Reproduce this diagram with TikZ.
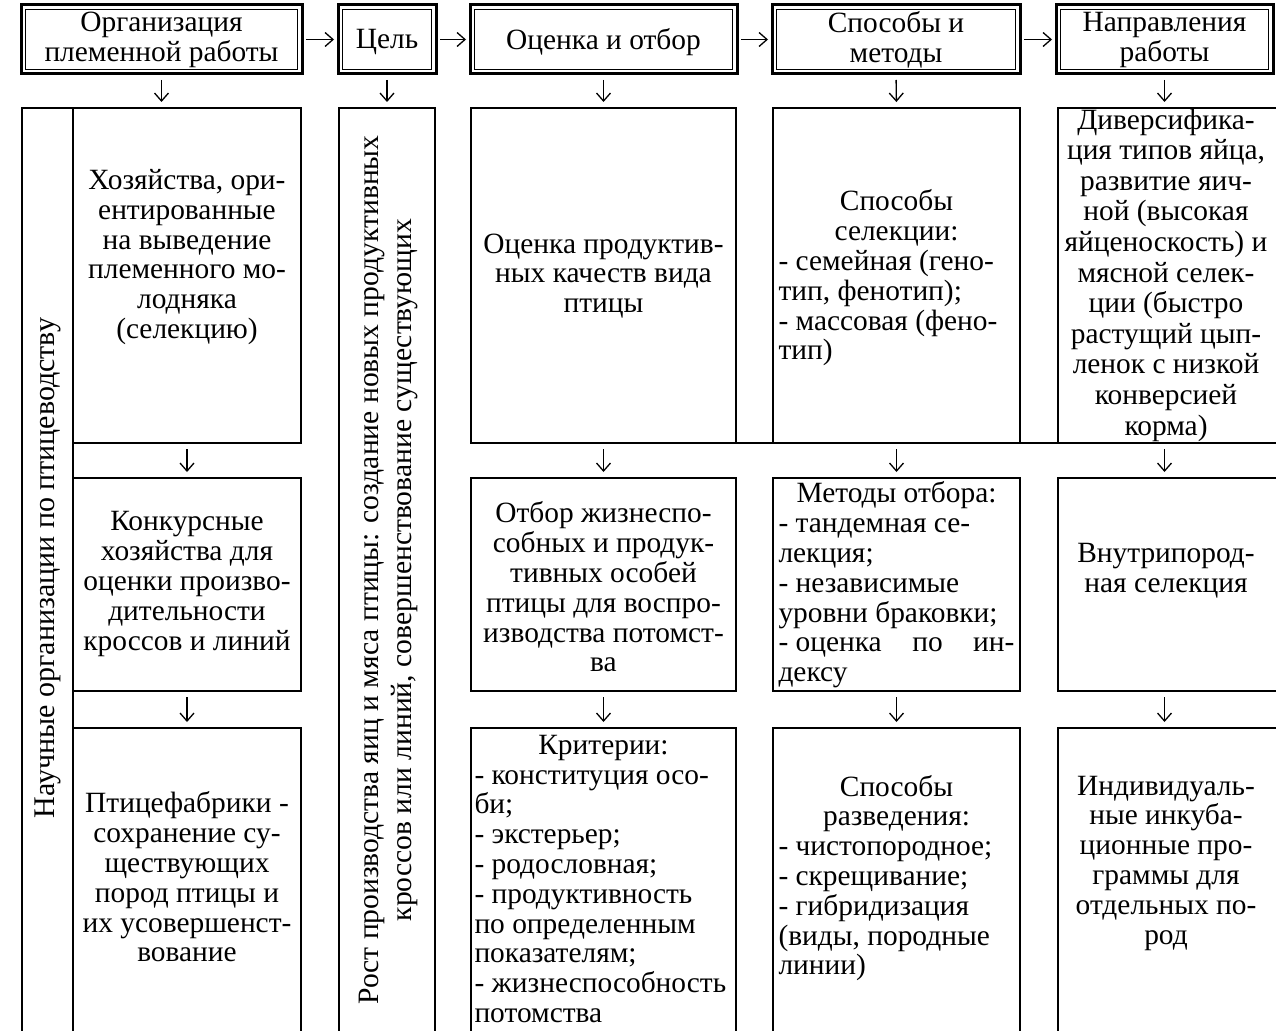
\documentclass[tikz,border=0pt]{standalone}
\usepackage{fontspec}
\setmainfont{Liberation Serif}
\usetikzlibrary{arrows.meta}
\newcommand{\fsz}{\fontsize{29.4}{29.8}\selectfont}
\newcommand{\cl}[1]{\leavevmode\hbox to\hsize{\hss#1\hss}}
\newcommand{\jl}[1]{\leavevmode\hbox to\hsize{#1}}
\begin{document}
\begin{tikzpicture}[x=1pt,y=-1pt,
  box/.style={draw,line width=2.2pt,inner sep=0pt,outer sep=0pt,minimum width=#1},
  hdr/.style={draw,line width=3pt,inner sep=0pt,outer sep=0pt,minimum height=69pt,minimum width=#1,
    path picture={\draw[line width=1.3pt]
      ([xshift=4.3pt,yshift=-4.3pt]path picture bounding box.north west) rectangle
      ([xshift=-4.3pt,yshift=4.3pt]path picture bounding box.south east);}},
  txt/.style={font=\fsz,inner sep=0pt,align=center},
  ltxt/.style={font=\fsz,inner sep=0pt,align=flush left,text width=#1},
  arr/.style={line width=1.3pt,-{Straight Barb[length=8pt,width=14pt,line width=1.3pt]},
    shorten <=6pt,shorten >=6pt},
  harr/.style={line width=1.3pt,-{Straight Barb[length=8pt,width=14pt,line width=1.3pt]},
    shorten <=4pt,shorten >=4pt},
  row1/.style={minimum height=335pt},
  row2/.style={minimum height=213pt},
  row3/.style={minimum height=317pt},
  full/.style={minimum height=937pt}]
\useasboundingbox (0,0) rectangle (1276,1030);
\clip (0,0) rectangle (1276,1030);

% headers
\node[hdr=281pt] (h1) at (161.5,39.5) {};
\node[hdr=98pt]  (h2) at (387,39.5) {};
\node[hdr=267pt] (h3) at (603.5,39.5) {};
\node[hdr=248pt] (h4) at (896,39.5) {};
\node[hdr=217pt] (h5) at (1164.5,39.5) {};
\node[txt] at (161.5,40) {Организация\\племенной работы};
\node[txt] at (387,42) {Цель};
\node[txt] at (603.5,42) {Оценка и отбор};
\node[txt] at (896,40) {Способы и\\методы};
\node[txt] at (1164.5,40) {Направления\\работы};

% column 1
\node[box=51pt,full] (s1) at (47.5,576.5) {};
\node[box=228pt,row1] (a1) at (187,275.5) {};
\node[box=228pt,row2] (b1) at (187,584.5) {};
\node[box=228pt,row3] (c1) at (187,886.5) {};
\node[txt,rotate=90,font=\fontsize{30}{30}\selectfont] at (47.5,568) {Научные организации по птицеводству};
\node[txt] at (187,257) {Хозяйства, ори-\\ентированные\\на выведение\\племенного мо-\\лодняка\\(селекцию)};
\node[txt] at (187,584) {Конкурсные\\хозяйства для\\оценки произво-\\дительности\\кроссов и линий};
\node[txt] at (187,877) {Птицефабрики -\\сохранение су-\\ществующих\\пород птицы и\\их усовершенст-\\вование};

% column 2
\node[box=96pt,full] (g2) at (387,576.5) {};
\node[txt,rotate=90,font=\fontsize{29.6}{33}\selectfont] at (388,570) {Рост производства яиц и мяса птицы: создание новых продуктивных\\кроссов или линий, совершенствование существующих};

% column 3
\node[box=265pt,row1] (a3) at (603.5,275.5) {};
\node[box=265pt,row2] (b3) at (603.5,584.5) {};
\node[box=265pt,row3] (c3) at (603.5,886.5) {};
\node[txt] at (603.5,276) {Оценка продуктив-\\ных качеств вида\\птицы};
\node[txt] at (603.5,587) {Отбор жизнеспо-\\собных и продук-\\тивных особей\\птицы для воспро-\\изводства потомст-\\ва};
\node[ltxt=258pt] at (603.5,879) {\cl{Критерии:}\\- конституция осо-\\би;\\- экстерьер;\\- родословная;\\- продуктивность\\по определенным\\показателям;\\- жизнеспособность\\потомства};

% column 4
\node[box=247pt,row1] (a4) at (896.5,275.5) {};
\node[box=247pt,row2] (b4) at (896.5,584.5) {};
\node[box=247pt,row3] (c4) at (896.5,886.5) {};
\node[ltxt=236pt] at (896.5,278) {\cl{Способы}\\\cl{селекции:}\\- семейная (гено-\\тип, фенотип);\\- массовая (фено-\\тип)};
\node[ltxt=236pt] at (896.5,585) {\cl{Методы отбора:}\\- тандемная се-\\лекция;\\- независимые\\уровни браковки;\\\jl{- оценка\hfill по\hfill ин-}\\дексу};
\node[ltxt=236pt] at (896.5,878) {\cl{Способы}\\\cl{разведения:}\\- чистопородное;\\- скрещивание;\\- гибридизация\\(виды, породные\\линии)};

% column 5
\node[box=222pt,row1] (a5) at (1169,275.5) {};
\node[box=222pt,row2] (b5) at (1169,584.5) {};
\node[box=222pt,row3] (c5) at (1169,886.5) {};
\node[txt,font=\fontsize{29.4}{30.6}\selectfont] at (1166,275) {Диверсифика-\\ция типов яйца,\\развитие яич-\\ной (высокая\\яйценоскость) и\\мясной селек-\\ции (быстро\\растущий цып-\\ленок с низкой\\конверсией\\корма)};
\node[txt] at (1166,571) {Внутрипород-\\ная селекция};
\node[txt] at (1166,863) {Индивидуаль-\\ные инкуба-\\ционные про-\\граммы для\\отдельных по-\\род};

% shared line under row 1
\draw[line width=2.2pt] (a3.south east) -- (a4.south west);
\draw[line width=2.2pt] (a4.south east) -- (a5.south west);

% header arrows
\draw[harr] (h1) -- (h2);
\draw[harr] (h2) -- (h3);
\draw[harr] (h3) -- (h4);
\draw[harr] (h4) -- (h5);

% down arrows
\draw[arr] (h1.south) -- (h1.south |- a1.north);
\draw[arr] (h2.south) -- (g2.north);
\draw[arr] (h3.south) -- (a3.north);
\draw[arr] (h4.south) -- (a4.north);
\draw[arr] (h5.south) -- (h5.south |- a5.north);
\draw[arr] (a1.south) -- (b1.north);
\draw[arr] (b1.south) -- (c1.north);
\draw[arr] (a3.south) -- (b3.north);
\draw[arr] (b3.south) -- (c3.north);
\draw[arr] (a4.south) -- (b4.north);
\draw[arr] (b4.south) -- (c4.north);
\draw[arr] (a5.south -| h5.south) -- (b5.north -| h5.south);
\draw[arr] (b5.south -| h5.south) -- (c5.north -| h5.south);
\end{tikzpicture}
\end{document}
